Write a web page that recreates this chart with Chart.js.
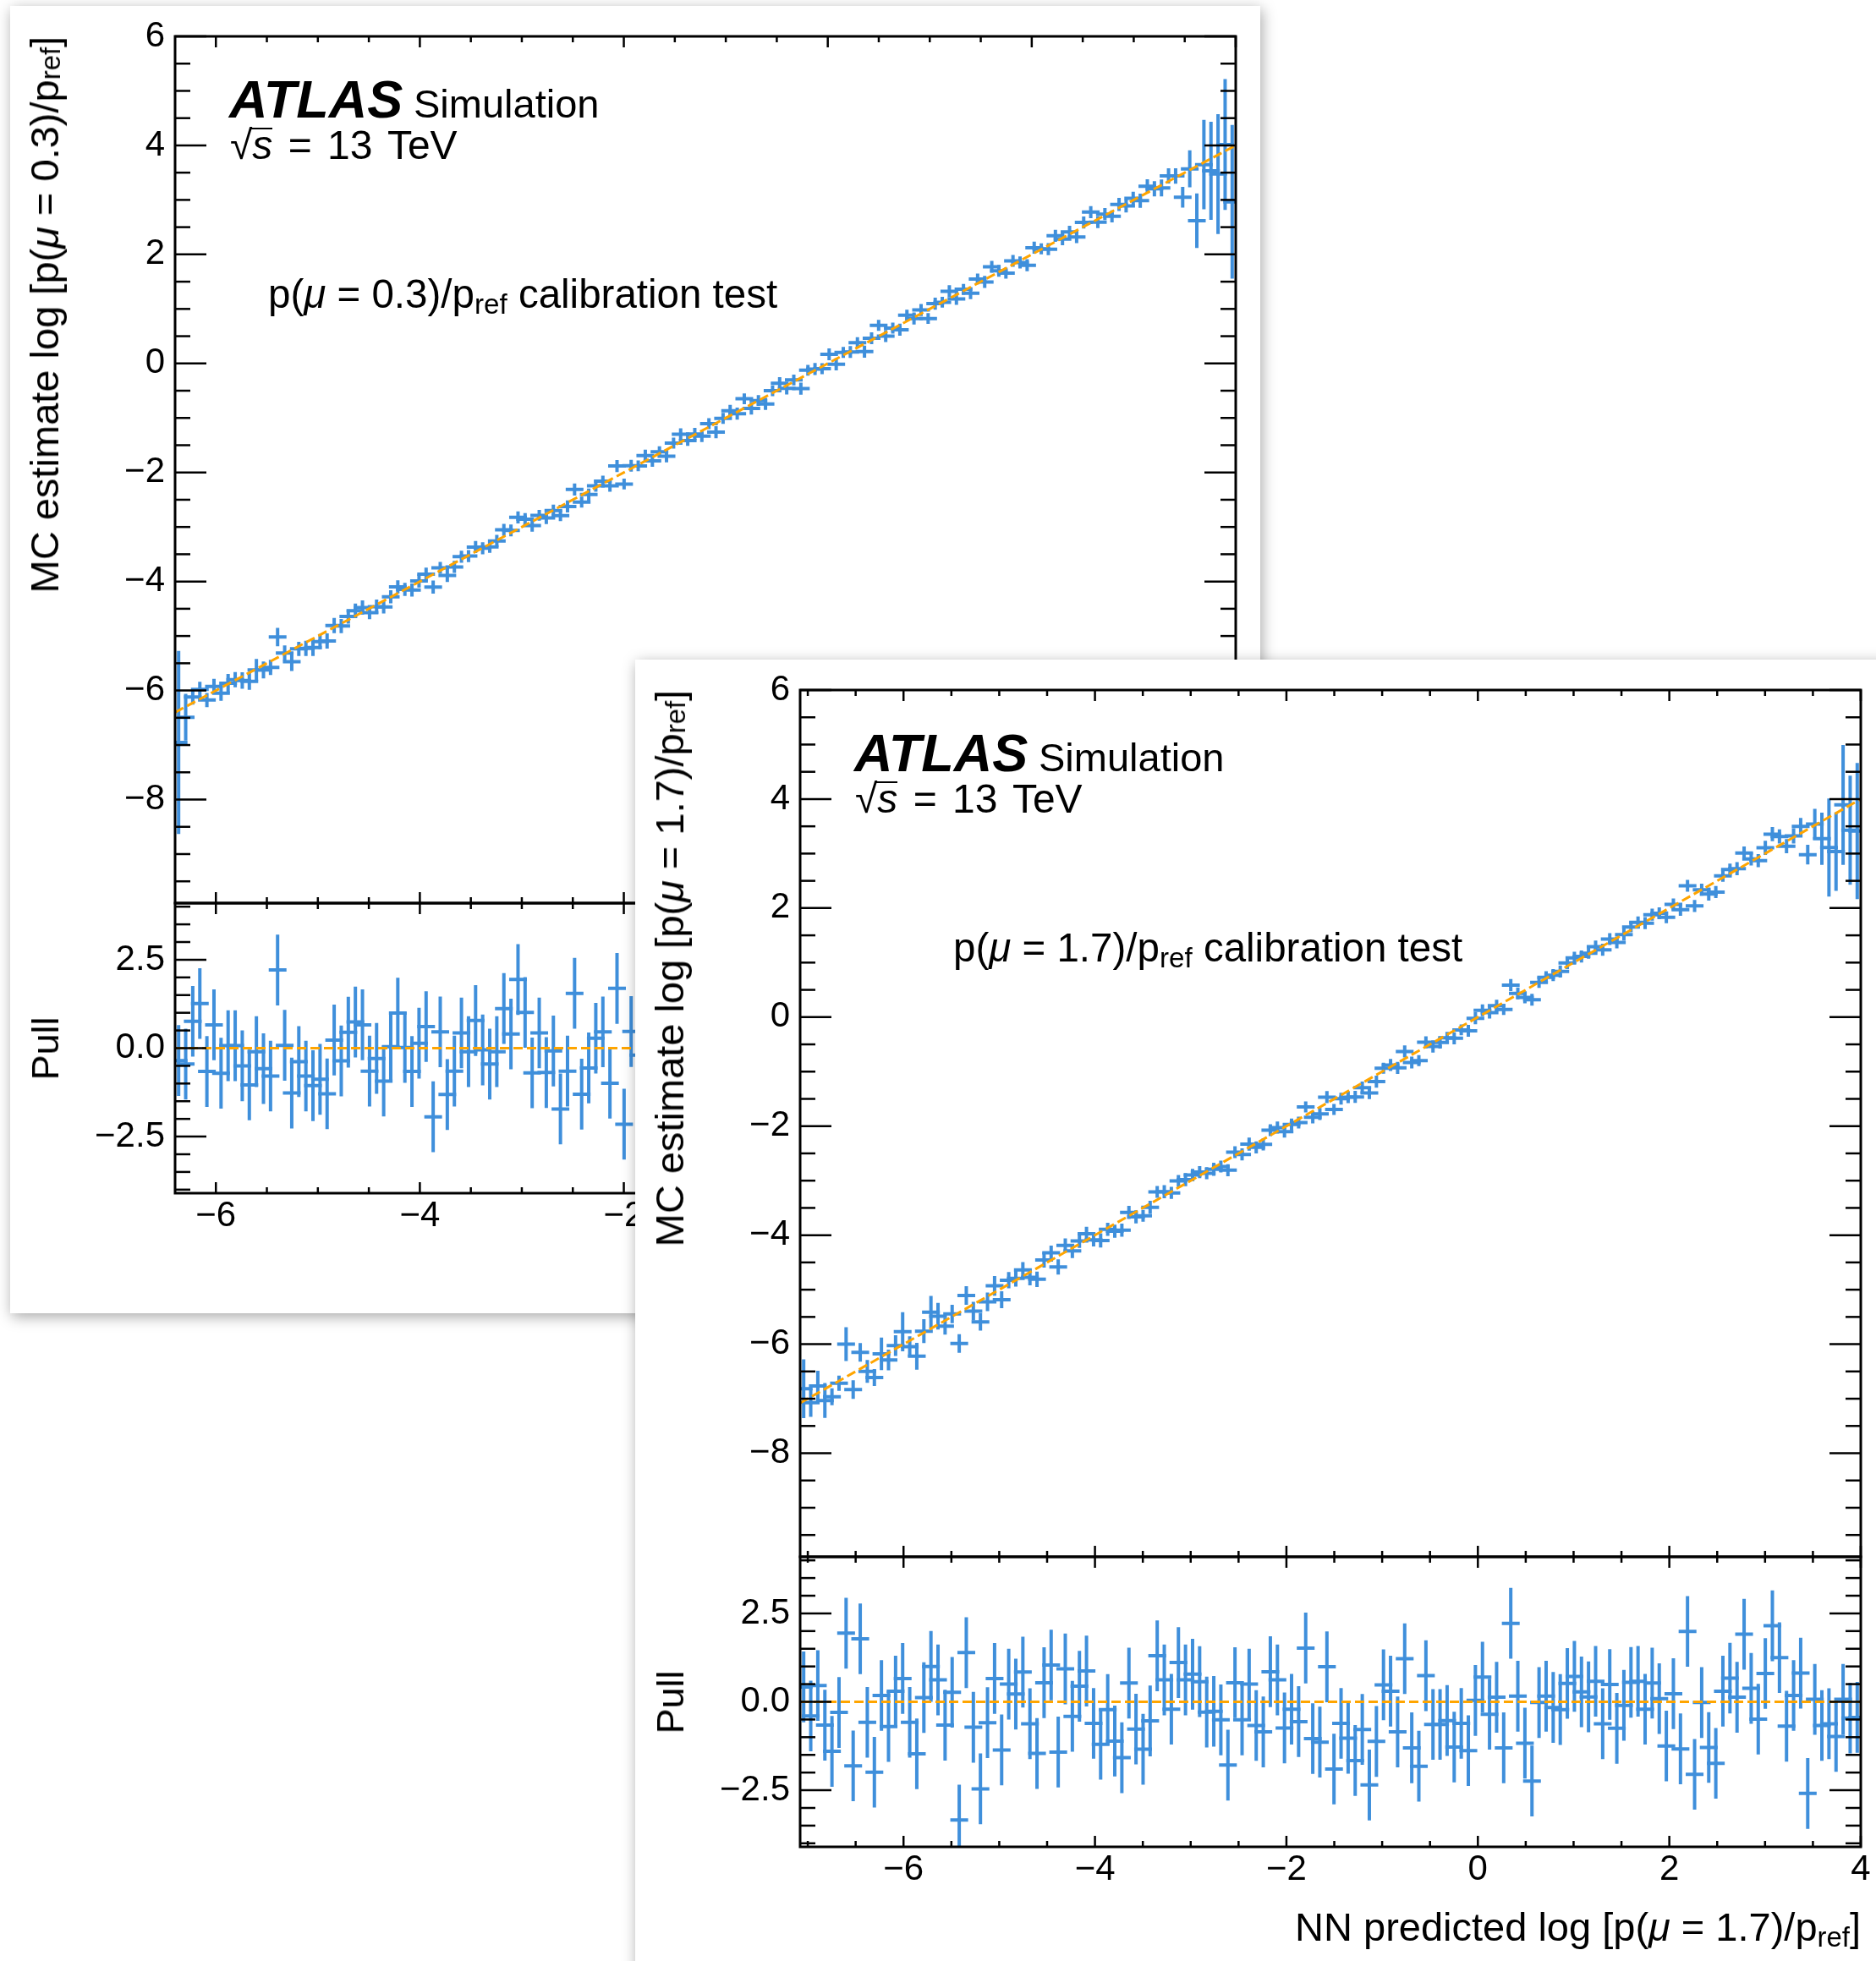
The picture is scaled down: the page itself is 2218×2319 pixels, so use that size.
<!DOCTYPE html>
<html>
<head>
<meta charset="utf-8">
<script src="https://cdn.jsdelivr.net/npm/chart.js@4.4.0/dist/chart.umd.min.js"></script>
<style>
  html, body { margin: 0; padding: 0; background: #fff; width: 2218px; height: 2319px; overflow: hidden; }
  body { position: relative; font-family: "Liberation Sans", Arial, sans-serif; color: #000; }
  .card { position: absolute; background: #fff; box-shadow: 2px 4px 16px rgba(0,0,0,0.35); overflow: hidden; }
  .card canvas { position: absolute; }
  .txt { position: absolute; white-space: nowrap; line-height: 1; }
  .vtxt { position: absolute; white-space: nowrap; line-height: 1; writing-mode: vertical-rl; }
  sub { font-size: 0.7em; vertical-align: -0.22em; line-height: 0; }
  .ovl { display: inline-block; border-top: 2px solid #000; line-height: 0.8em; margin-left: -2px; padding-left: 2px; }
</style>
</head>
<body>
<div class="card" id="card1" style="left:12px; top:7px; width:1478px; height:1546px;"></div>
<div class="card" id="card2" style="left:751px; top:780px; width:1520px; height:1600px;"></div>
<script>
// ---- data: panel 1, p(mu = 0.3) ----
const x1Min = -6.4, x1Max = 4;
const pull1 = [
  -0.35, -0.45, 0.76, 1.26, -0.66, 0.66, -0.71, 0.07, 0.07, -0.5,
  -1.04, -0.1, -0.58, -0.79, 2.21, 0.08, -1.27, -0.38, -0.79, -1.06,
  -0.88, -1.29, 0.23, -0.36, 0.45, 0.74, 0.66, -0.65, -0.29, -0.93,
  0.04, 0.99, 0.02, -0.66, 0.14, 0.61, -1.94, 0.46, -1.31, -0.65,
  0.43, -0.1, 0.78, -0.05, -0.45, -0.1, 1.12, 0.4, 1.94, 1.01,
  -0.7, 0.43, -0.69, -0.08, -1.72, -0.65, 1.55, -1.3, -0.56, 0.28,
  0.46, -0.99, 1.69, -2.15, 0.47, -0.2, 0.9, -0.6, 0.3, -1.1,
  0.5, 1.3, -0.4, 0.1, -0.9, 0.6, -1.5, 0.2, 0.8, -0.3,
  1.7, -0.7, 0.0, -1.2, 0.4, 1.0, -0.5, 0.3, -1.8, 0.7,
  0.2, -0.4, 1.4, -0.9, 0.5, -0.1, 0.9, -1.3, 0.3, 2.0,
  -0.6, 0.1, -0.8, 1.1, -0.2, 0.6, -1.6, 0.4, 0.0, 1.2,
  -0.7, 0.3, -1.0, 0.8, -0.4, 1.5, 0.2, -0.9, 0.6, -0.3,
  -1.4, 0.9, 0.1, -0.6, 1.0, -0.2, 0.4, -1.1, 0.7, 1.8,
  -0.5, 0.2, -0.8, 0.5, -0.3, 0.3, -0.6, 0.9, 0.0, -0.33,
  0.7, 0.2, -2.26, 0.06, -2.0, -0.05, -0.25, -0.32, 0.1, -0.71
];
const sigma1 = [
  1.68, 0.43, 0.14, 0.14, 0.13, 0.14, 0.14, 0.17, 0.14, 0.15,
  0.155, 0.2, 0.155, 0.14, 0.17, 0.14, 0.17, 0.13, 0.14, 0.155,
  0.14, 0.14, 0.14, 0.13, 0.13, 0.13, 0.13, 0.12, 0.13, 0.12,
  0.12, 0.12, 0.12, 0.12, 0.12, 0.12, 0.12, 0.11, 0.12, 0.11,
  0.11, 0.11, 0.11, 0.11, 0.11, 0.11, 0.11, 0.11, 0.11, 0.11,
  0.11, 0.1, 0.11, 0.11, 0.1, 0.11, 0.11, 0.1, 0.11, 0.11,
  0.1, 0.11, 0.11, 0.1, 0.11, 0.1, 0.11, 0.11, 0.1, 0.11,
  0.1, 0.11, 0.1, 0.11, 0.11, 0.1, 0.11, 0.1, 0.11, 0.11,
  0.1, 0.11, 0.1, 0.11, 0.1, 0.11, 0.11, 0.1, 0.11, 0.1,
  0.11, 0.1, 0.11, 0.11, 0.1, 0.11, 0.1, 0.11, 0.11, 0.1,
  0.11, 0.1, 0.11, 0.1, 0.11, 0.11, 0.1, 0.11, 0.1, 0.11,
  0.11, 0.1, 0.11, 0.1, 0.11, 0.11, 0.11, 0.1, 0.11, 0.11,
  0.11, 0.11, 0.1, 0.11, 0.11, 0.11, 0.11, 0.11, 0.11, 0.11,
  0.11, 0.11, 0.11, 0.12, 0.12, 0.12, 0.13, 0.13, 0.14, 0.155,
  0.14, 0.14, 0.19, 0.34, 0.5, 0.82, 0.9, 1.1, 1.2, 1.41
];
const xErr1 = 0.087;

// ---- data: panel 2, p(mu = 1.7) ----
const x2Min = -7.08, x2Max = 4;
const pull2 = [
  0.42, -0.4, 0.46, -0.66, -1.4, -0.3, 1.94, -1.81, 1.78, -0.58,
  -1.99, 0.18, -0.7, 0.3, 0.66, -0.58, -1.47, 0.12, 1.0, 0.62,
  -0.66, 0.27, -3.34, 1.39, -0.72, -2.46, -0.59, 0.66, -1.36, 0.5,
  0.22, 0.84, -0.62, -1.46, 0.54, 1.04, -1.42, 0.93, -0.41, 0.44,
  0.87, -0.61, -1.2, -0.22, -1.11, -1.58, 0.53, -0.77, -1.34, -0.54,
  1.3, 0.62, -0.21, 1.11, 0.62, 0.78, 0.57, -0.29, -0.27, -0.51,
  -1.79, 0.54, -0.51, 0.5, -0.67, -0.85, 0.85, 0.62, -0.74, -0.21,
  -0.56, 1.52, -1.04, -1.14, 0.99, -1.9, -0.61, -1.03, -1.66, -0.78,
  -2.35, -1.12, 0.48, 0.3, -0.85, 1.22, -1.3, -1.82, 0.74, -0.64,
  -0.64, -0.53, -1.28, -0.61, -1.38, 0.04, 0.7, -0.35, 0.13, -1.3,
  2.22, 0.16, -1.17, -2.24, -0.02, 0.16, -0.16, -0.22, 0.52, 0.72,
  0.28, 0.14, 0.58, -0.62, 0.49, -0.75, -0.1, 0.55, 0.58, -0.21,
  0.53, 0.09, -1.25, 0.23, -1.33, 1.99, -2.05, -0.02, -1.29, -1.74,
  0.3, 0.67, 0.13, 1.91, 0.38, -0.49, 0.8, 2.15, 1.25, -0.69,
  0.18, 0.81, -2.59, 0.07, -0.67, -0.62, -0.98, 0.07, -0.46, -0.44
];
const sigma2 = [
  0.54, 0.26, 0.28, 0.32, 0.155, 0.14, 0.31, 0.17, 0.17, 0.21,
  0.155, 0.3, 0.19, 0.19, 0.36, 0.19, 0.245, 0.22, 0.3, 0.245,
  0.155, 0.17, 0.17, 0.17, 0.17, 0.16, 0.17, 0.18, 0.155, 0.15,
  0.15, 0.14, 0.15, 0.14, 0.14, 0.13, 0.14, 0.13, 0.13, 0.13,
  0.13, 0.12, 0.13, 0.12, 0.12, 0.12, 0.12, 0.12, 0.11, 0.12,
  0.11, 0.12, 0.11, 0.11, 0.12, 0.11, 0.11, 0.11, 0.12, 0.11,
  0.11, 0.11, 0.11, 0.12, 0.11, 0.11, 0.11, 0.11, 0.11, 0.11,
  0.11, 0.1, 0.11, 0.11, 0.11, 0.1, 0.11, 0.11, 0.11, 0.11,
  0.11, 0.11, 0.1, 0.11, 0.11, 0.11, 0.11, 0.1, 0.11, 0.11,
  0.11, 0.11, 0.11, 0.1, 0.11, 0.11, 0.11, 0.11, 0.11, 0.1,
  0.11, 0.11, 0.11, 0.11, 0.1, 0.11, 0.11, 0.11, 0.11, 0.11,
  0.11, 0.1, 0.11, 0.11, 0.11, 0.11, 0.11, 0.1, 0.11, 0.11,
  0.11, 0.11, 0.11, 0.11, 0.11, 0.11, 0.11, 0.11, 0.12, 0.11,
  0.11, 0.11, 0.12, 0.12, 0.12, 0.12, 0.13, 0.13, 0.13, 0.13,
  0.14, 0.155, 0.18, 0.28, 0.48, 0.9, 0.72, 1.1, 1.0, 1.25
];
const xErr2 = 0.093;

// ---- axes ----
const mainYTicks = [-8, -6, -4, -2, 0, 2, 4, 6];
const pullYTicks = [-2.5, 0, 2.5];
const xTicks = [-6, -4, -2, 0, 2, 4];
const yMin = -9.9, yMax = 6;
const pullMin = -4.1, pullMax = 4.1;

const BLUE = '#3f8fdb';
const ORANGE = '#ffa500';
const FONT = '"Liberation Sans", Arial, sans-serif';

// layout inside a card
const PLOT_L = 195, PLOT_T = 36, PLOT_W = 1254, MAIN_H = 1025, PULL_H = 343;
const LEFT = 160, PAD = 45, PAD_R = 20, XLAB_H = 70;

Chart.defaults.font.family = FONT;

const minusSign = v => (v < 0 ? '\u2212' : '');
const intLabel = v => minusSign(v) + Math.abs(v);
const pullLabel = v => minusSign(v) + Math.abs(v).toFixed(1);

// error bars drawn before the datasets so the dashed reference line sits on top
const errorBars = {
    id: 'errorBars',
    beforeDatasetsDraw(chart) {
        const { ctx, chartArea: a, scales: { x, y } } = chart;
        ctx.save();
        ctx.beginPath();
        ctx.rect(a.left, a.top, a.right - a.left, a.bottom - a.top);
        ctx.clip();
        ctx.strokeStyle = BLUE;
        ctx.lineWidth = 4;
        chart.data.datasets.forEach(ds => {
            if (ds.yErr === undefined) return;
            ds.data.forEach((p, i) => {
                const e = Array.isArray(ds.yErr) ? ds.yErr[i] : ds.yErr;
                const px = x.getPixelForValue(p.x);
                const py = y.getPixelForValue(p.y);
                ctx.beginPath();
                ctx.moveTo(px, y.getPixelForValue(p.y - e));
                ctx.lineTo(px, y.getPixelForValue(p.y + e));
                ctx.moveTo(x.getPixelForValue(p.x - ds.xErr), py);
                ctx.lineTo(x.getPixelForValue(p.x + ds.xErr), py);
                ctx.stroke();
            });
        });
        ctx.restore();
    }
};

// frame with inward ticks on all four sides
const frameTicks = {
    id: 'frameTicks',
    afterDraw(chart, args, opts) {
        const { ctx, chartArea: a, scales: { x, y } } = chart;
        ctx.save();
        ctx.strokeStyle = '#000';
        ctx.lineWidth = 2.5;
        const seg = (x0, y0, x1, y1) => { ctx.beginPath(); ctx.moveTo(x0, y0); ctx.lineTo(x1, y1); ctx.stroke(); };
        for (let k = Math.ceil(x.min * 2); k <= Math.floor(x.max * 2); k++) {
            const v = k / 2, px = x.getPixelForValue(v);
            const len = xTicks.includes(v) ? 13 : 7;
            seg(px, a.bottom, px, a.bottom - len);
            seg(px, a.top, px, a.top + len);
        }
        for (let k = Math.ceil(y.min * 2); k <= Math.floor(y.max * 2); k++) {
            const v = k / 2, py = y.getPixelForValue(v);
            const len = opts.yMajor.includes(v) ? 37 : 18;
            seg(a.left, py, a.left + len, py);
            seg(a.right, py, a.right - len, py);
        }
        ctx.lineWidth = 3;
        ctx.strokeRect(a.left, a.top, a.right - a.left, a.bottom - a.top);
        ctx.restore();
    }
};

function addCanvas(card, left, top, w, h) {
    const c = document.createElement('canvas');
    c.width = w; c.height = h;
    c.style.left = left + 'px'; c.style.top = top + 'px';
    c.style.width = w + 'px'; c.style.height = h + 'px';
    card.appendChild(c);
    return c;
}

function addText(card, cls, html, style) {
    const d = document.createElement('div');
    d.className = cls;
    d.innerHTML = html;
    Object.assign(d.style, style);
    card.appendChild(d);
    return d;
}

function yScale(min, max, ticks, fmt) {
    return {
        type: 'linear', min: min, max: max,
        grid: { display: false, drawTicks: false },
        border: { display: false },
        afterBuildTicks: s => { s.ticks = ticks.map(v => ({ value: v })); },
        afterFit: s => { s.width = LEFT; },
        ticks: { padding: 12, autoSkip: false, color: '#000', font: { size: 42 }, callback: fmt }
    };
}

function makePanel(card, xMin, xMax, pull, sigma, xErr, mu, calibX) {
    const nn = pull.map((_, i) => xMin + (i + 0.5) * (xMax - xMin) / pull.length);
    const mc = nn.map((v, i) => v + pull[i] * sigma[i]);

    const base = {
        animation: false, responsive: false, devicePixelRatio: 1, events: [],
        plugins: { legend: { display: false }, tooltip: { enabled: false } }
    };

    const mainCanvas = addCanvas(card, PLOT_L - LEFT, PLOT_T - PAD, LEFT + PLOT_W + PAD_R, PAD + MAIN_H + PAD);
    new Chart(mainCanvas, {
        type: 'scatter',
        data: {
            datasets: [{
                data: nn.map((v, i) => ({ x: v, y: mc[i] })),
                yErr: sigma, xErr: xErr, pointRadius: 0
            }, {
                data: [{ x: xMin, y: xMin }, { x: xMax, y: xMax }],
                showLine: true, borderColor: ORANGE, borderWidth: 3, borderDash: [11, 5], pointRadius: 0
            }]
        },
        options: Object.assign({}, base, {
            layout: { padding: { left: 0, top: PAD, right: PAD_R, bottom: PAD } },
            plugins: Object.assign({}, base.plugins, { frameTicks: { yMajor: mainYTicks } }),
            scales: {
                x: { type: 'linear', min: xMin, max: xMax, display: false },
                y: yScale(yMin, yMax, mainYTicks, intLabel)
            }
        }),
        plugins: [errorBars, frameTicks]
    });

    const pullCanvas = addCanvas(card, PLOT_L - LEFT, PLOT_T + MAIN_H - PAD, LEFT + PLOT_W + PAD_R, PAD + PULL_H + XLAB_H);
    new Chart(pullCanvas, {
        type: 'scatter',
        data: {
            datasets: [{
                data: nn.map((v, i) => ({ x: v, y: pull[i] })),
                yErr: 1, xErr: xErr, pointRadius: 0
            }, {
                data: [{ x: xMin, y: 0 }, { x: xMax, y: 0 }],
                showLine: true, borderColor: ORANGE, borderWidth: 3, borderDash: [11, 5], pointRadius: 0
            }]
        },
        options: Object.assign({}, base, {
            layout: { padding: { left: 0, top: PAD, right: PAD_R, bottom: 0 } },
            plugins: Object.assign({}, base.plugins, { frameTicks: { yMajor: pullYTicks } }),
            scales: {
                x: {
                    type: 'linear', min: xMin, max: xMax, position: 'bottom',
                    grid: { display: false, drawTicks: false },
                    border: { display: false },
                    afterBuildTicks: s => { s.ticks = xTicks.filter(v => v >= xMin && v <= xMax).map(v => ({ value: v })); },
                    afterFit: s => { s.height = XLAB_H; },
                    ticks: { padding: 2, autoSkip: false, maxRotation: 0, color: '#000', font: { size: 42 }, callback: intLabel }
                },
                y: yScale(pullMin, pullMax, pullYTicks, pullLabel)
            }
        }),
        plugins: [errorBars, frameTicks]
    });

    // labels
    const ratio = `p(<i>μ</i> = ${mu})/p<sub>ref</sub>`;
    addText(card, 'txt', '<b><i>ATLAS</i></b>', { left: '259px', top: (PLOT_T + 96 - 53) + 'px', fontSize: '63px' });
    addText(card, 'txt', 'Simulation', { left: '477px', top: (PLOT_T + 96 - 40) + 'px', fontSize: '47px' });
    addText(card, 'txt', '√<span class="ovl"><i>s</i></span> = 13 TeV', { left: '260px', top: (PLOT_T + 146 - 41) + 'px', fontSize: '48px', wordSpacing: '5px' });
    addText(card, 'txt', ratio + ' calibration test', { left: calibX + 'px', top: (PLOT_T + 321 - 40) + 'px', fontSize: '47.5px' });
    addText(card, 'vtxt', 'MC estimate log [' + ratio + ']', { left: '17px', top: PLOT_T + 'px', fontSize: '47px', transform: 'rotate(180deg)' });
    addText(card, 'vtxt', 'Pull', { left: '19px', top: (PLOT_T + MAIN_H + PULL_H / 2) + 'px', fontSize: '45px', transform: 'translateY(-50%) rotate(180deg)' });
    addText(card, 'txt', 'NN predicted log [' + ratio + ']', { left: (PLOT_L + PLOT_W - 760) + 'px', width: '760px', textAlign: 'right', top: (PLOT_T + MAIN_H + PULL_H + 111 - 40) + 'px', fontSize: '47px' });
}

makePanel(document.getElementById('card1'), x1Min, x1Max, pull1, sigma1, xErr1, '0.3', 305);
makePanel(document.getElementById('card2'), x2Min, x2Max, pull2, sigma2, xErr2, '1.7', 376);
</script>
</body>
</html>
